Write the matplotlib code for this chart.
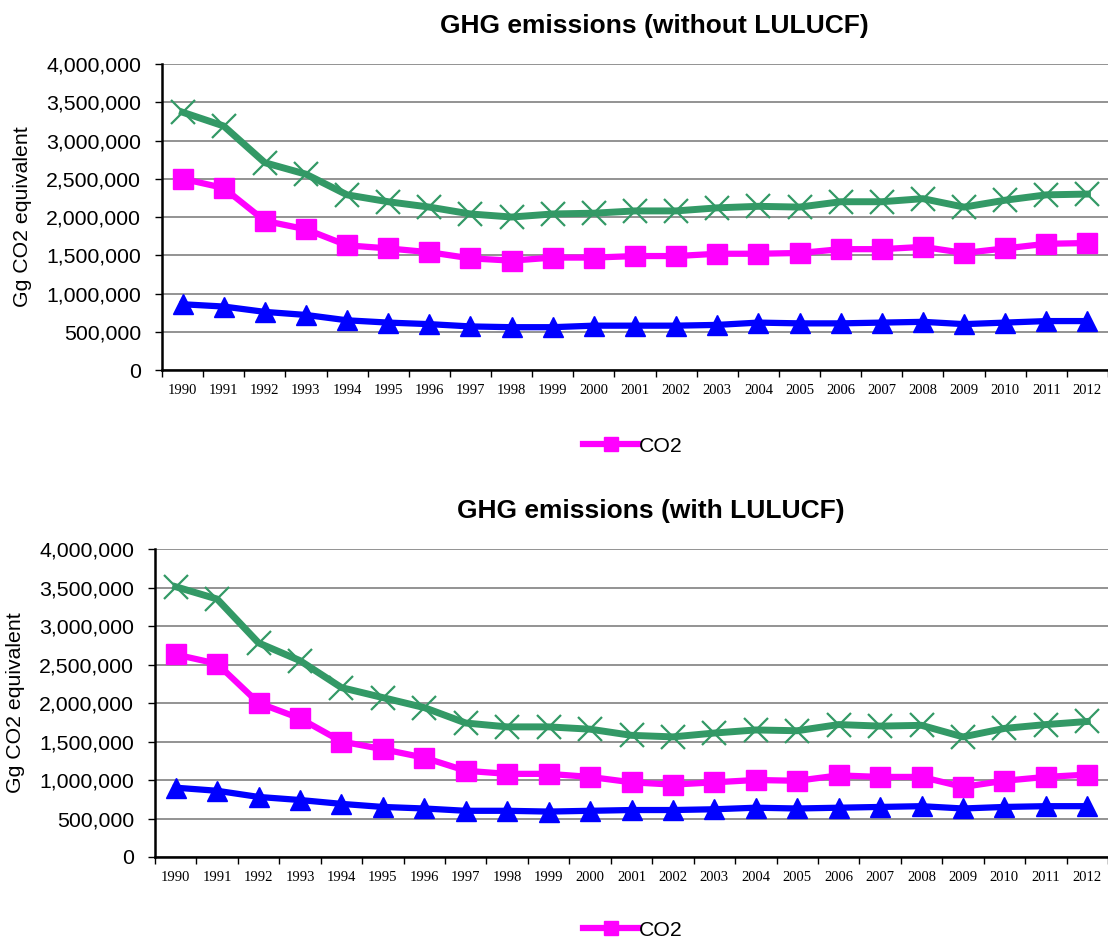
import numpy as np
import matplotlib.pyplot as plt
from matplotlib.ticker import FuncFormatter, FixedLocator

years = [str(y) for y in range(1990, 2013)]

# without LULUCF (Gg CO2 eq)
total_wo = [3370000, 3190000, 2710000, 2560000, 2290000, 2200000, 2130000, 2040000, 2000000,
            2040000, 2050000, 2080000, 2080000, 2120000, 2140000, 2130000, 2200000, 2200000,
            2240000, 2130000, 2220000, 2290000, 2300000]
co2_wo = [2500000, 2380000, 1950000, 1840000, 1630000, 1590000, 1540000, 1460000, 1430000,
          1470000, 1470000, 1490000, 1490000, 1520000, 1520000, 1530000, 1580000, 1580000,
          1610000, 1530000, 1590000, 1650000, 1660000]
other_wo = [860000, 830000, 760000, 720000, 650000, 620000, 600000, 570000, 560000,
            560000, 580000, 580000, 580000, 590000, 620000, 610000, 610000, 620000,
            630000, 600000, 620000, 640000, 640000]

# with LULUCF
total_w = [3510000, 3350000, 2780000, 2550000, 2200000, 2070000, 1940000, 1740000, 1690000,
           1690000, 1660000, 1580000, 1560000, 1610000, 1650000, 1640000, 1720000, 1700000,
           1710000, 1560000, 1670000, 1720000, 1760000]
co2_w = [2630000, 2510000, 2000000, 1800000, 1500000, 1400000, 1290000, 1120000, 1080000,
         1080000, 1040000, 970000, 940000, 970000, 1000000, 990000, 1060000, 1040000,
         1040000, 910000, 990000, 1040000, 1070000]
other_w = [900000, 860000, 780000, 740000, 690000, 650000, 630000, 600000, 600000,
           590000, 600000, 610000, 610000, 620000, 640000, 630000, 640000, 650000,
           660000, 630000, 650000, 660000, 660000]

titles = ['GHG emissions (without LULUCF)', 'GHG emissions (with LULUCF)']

plt.rcParams['font.family'] = ['Liberation Sans', 'DejaVu Sans']

fig = plt.figure(figsize=(11.08, 9.43), dpi=100)
ax1 = fig.add_axes([0.1462, 0.6076, 0.8538, 0.3245])
ax2 = fig.add_axes([0.1399, 0.0912, 0.8601, 0.3266])

x = np.arange(len(years))


def draw(ax, total, co2, other, title, leg_y):
    ax.plot(x, total, color='#339966', lw=5, marker='x', ms=17, mew=1.6, zorder=3)
    l, = ax.plot(x, co2, color='#FF00FF', lw=4.5, marker='s', ms=15, zorder=3, label='CO2')
    ax.plot(x, other, color='#0000FF', lw=4.5, marker='^', ms=15, zorder=3)
    ax.set_xlim(-0.5, len(years) - 0.5)
    ax.set_ylim(0, 4000000)
    ax.set_yticks(np.arange(0, 4000001, 500000))
    ax.yaxis.set_major_formatter(FuncFormatter(lambda v, p: f'{int(v):,}'))
    ax.grid(axis='y', color='#808080', lw=1.2)
    ax.set_axisbelow(True)
    ax.set_xticks(x)
    ax.set_xticklabels(years, family='Liberation Serif', fontsize=10.5)
    ax.xaxis.set_minor_locator(FixedLocator(np.arange(-0.5, len(years), 1)))
    ax.tick_params(axis='x', which='major', length=0, pad=10)
    ax.tick_params(axis='x', which='minor', length=5, width=1, direction='out')
    ax.tick_params(axis='y', labelsize=15.3, length=5, width=1, pad=10)
    for s in ['top', 'right']:
        ax.spines[s].set_visible(False)
    ax.spines['left'].set_linewidth(1.8)
    ax.spines['bottom'].set_linewidth(1.8)
    ax.set_ylabel('Gg CO2 equivalent', fontsize=15.3, labelpad=10)
    ax.set_title(title, fontsize=19, fontweight='bold', pad=22, x=0.52)
    fig.legend(handles=[l], loc='center', bbox_to_anchor=(633 / 1108, 1 - leg_y / 943),
               frameon=False, fontsize=15.3, handlelength=2.6, handletextpad=0.05,
               markerscale=0.7)


draw(ax1, total_wo, co2_wo, other_wo, titles[0], 446)
draw(ax2, total_w, co2_w, other_w, titles[1], 930)

fig.savefig('out.png', dpi=100)
